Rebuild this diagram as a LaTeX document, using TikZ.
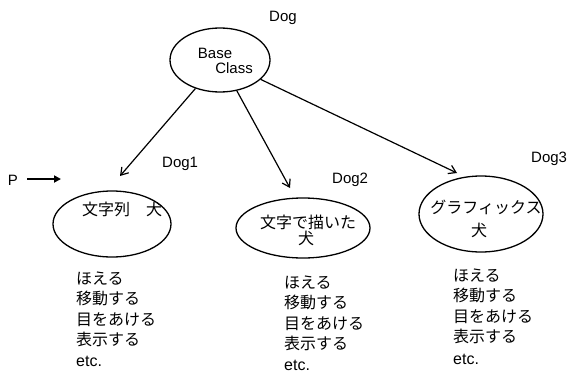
\documentclass[tikz,border=0pt]{standalone}
\usepackage{fontspec}
\setmainfont{Liberation Sans}
\newfontfamily\jp{Noto Sans CJK JP}
\usetikzlibrary{arrows.meta,shapes.geometric}
\begin{document}
\begin{tikzpicture}[x=1pt,y=-1pt,
  oval/.style={draw,ellipse,line width=1.3pt,inner sep=0pt},
  lbl/.style={font=\fontsize{15}{15}\selectfont,inner sep=0pt},
  jtxt/.style={font=\jp\fontsize{16}{16}\selectfont,inner sep=0pt},
  item/.style={font=\jp\fontsize{16}{16}\selectfont,inner sep=0pt,anchor=base west},
  etcitem/.style={font=\fontsize{16}{16}\selectfont,inner sep=0pt,anchor=base west},
  inherit/.style={line width=1.2pt,-{Straight Barb[length=7pt,width=9pt]}},
  pointer/.style={line width=2pt,-{Triangle[length=7pt,width=7pt]}}]
\useasboundingbox (0,0) rectangle (572,372);
% base class
\node[oval,minimum width=100pt,minimum height=64pt] (base) at (220,60) {};
\node[lbl] (tbase) at (215,53) {Base};
\node[lbl] (tclass) at (234,68) {Class};
\node[lbl] (ldog) at (283,18) {Dog};
% derived
\node[oval,minimum width=118pt,minimum height=66pt] (d1) at (112,224) {};
\node[oval,minimum width=134pt,minimum height=60pt] (d2) at (303,228) {};
\node[oval,minimum width=124pt,minimum height=76pt] (d3) at (481,214) {};
\node[jtxt] (t1) at (122,209) {文字列　犬};
\node[jtxt] (t2a) at (308,222) {文字で描いた};
\node[jtxt] (t2b) at (306,238) {犬};
\node[jtxt] (t3a) at (486,207) {グラフィックス};
\node[jtxt] (t3b) at (479,230) {犬};
\node[lbl,anchor=west] (ld1) at (162,164) {Dog1};
\node[lbl,anchor=west] (ld2) at (332,180) {Dog2};
\node[lbl,anchor=west] (ld3) at (531,159) {Dog3};
% arrows
\coordinate (a1) at (120,176);
\coordinate (a2) at (290,188);
\coordinate (a3) at (457,173);
\draw[inherit] (base) -- (a1);
\draw[inherit] (base) -- (a2);
\draw[inherit] (base) -- (a3);
% pointer P
\node[lbl] (p) at (13,180) {P};
\coordinate (pstart) at (27,179);
\coordinate (pend) at (61,179);
\draw[pointer] (pstart) -- (pend);
% method lists
\node[item] (m11) at (76,284) {ほえる};
\node[item] (m12) at (76,304.5) {移動する};
\node[item] (m13) at (76,325) {目をあける};
\node[item] (m14) at (76,345.5) {表示する};
\node[etcitem] (m15) at (76,366) {etc.};
\node[item] (m21) at (284,288) {ほえる};
\node[item] (m22) at (284,308.5) {移動する};
\node[item] (m23) at (284,329) {目をあける};
\node[item] (m24) at (284,349.5) {表示する};
\node[etcitem] (m25) at (284,370) {etc.};
\node[item] (m31) at (453,281) {ほえる};
\node[item] (m32) at (453,301.5) {移動する};
\node[item] (m33) at (453,322) {目をあける};
\node[item] (m34) at (453,342.5) {表示する};
\node[etcitem] (m35) at (453,364) {etc.};
\end{tikzpicture}
\end{document}
